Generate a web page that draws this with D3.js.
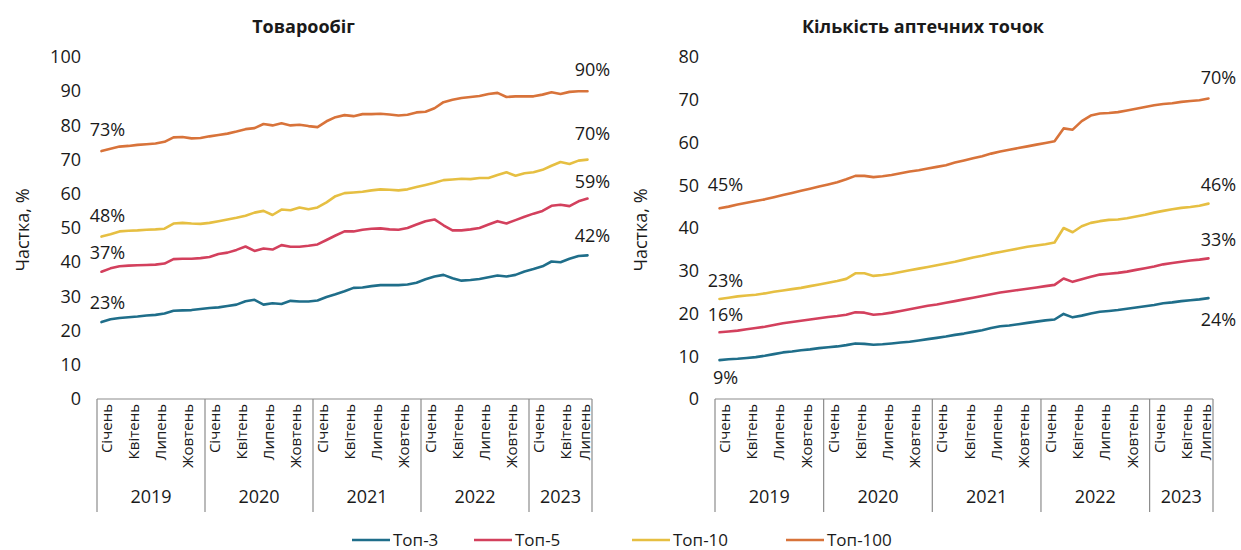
<!DOCTYPE html>
<html>
<head>
<meta charset="utf-8">
<script src="https://cdn.jsdelivr.net/npm/d3@7/dist/d3.min.js"></script>
<style>
  html, body { margin: 0; padding: 0; background: #ffffff; }
  svg { display: block; font-family: "Open Sans", "Noto Sans", sans-serif; }
</style>
</head>
<body>
<svg id="chart" width="1241" height="550"></svg>
<script>
// Monthly shares, January 2019 – July 2023 (55 months)
const years = ["2019", "2020", "2021", "2022", "2023"];
const monthTickLabels = ["Січень", "Квітень", "Липень", "Жовтень"];
const monthCount = 55;

const seriesNames = ["Топ-3", "Топ-5", "Топ-10", "Топ-100"];
const seriesColors = ["#1f6e8a", "#d3405d", "#e6bf42", "#d8733a"];

// Товарообіг
const turnoverTop3 = [22.5, 23.3, 23.7, 23.9, 24.1, 24.4, 24.6, 25.0, 25.8, 25.9, 26.0, 26.3,
  26.6, 26.8, 27.2, 27.6, 28.6, 29.0, 27.6, 28.0, 27.8, 28.7, 28.5, 28.5,
  28.8, 29.8, 30.6, 31.5, 32.5, 32.6, 33.0, 33.3, 33.3, 33.3, 33.5, 34.0,
  35.0, 35.8, 36.3, 35.3, 34.6, 34.8, 35.1, 35.6, 36.1, 35.8, 36.3, 37.3,
  38.0, 38.8, 40.2, 40.0, 41.0, 41.8, 42.0];
const turnoverTop5 = [37.2, 38.2, 38.8, 39.0, 39.1, 39.2, 39.3, 39.6, 40.9, 41.0, 41.0, 41.2,
  41.5, 42.4, 42.8, 43.6, 44.6, 43.3, 44.0, 43.7, 45.0, 44.5, 44.5, 44.8,
  45.2, 46.5, 47.8, 49.0, 49.0, 49.5, 49.8, 49.9, 49.6, 49.5, 50.0, 51.0,
  52.0, 52.5, 50.8, 49.3, 49.3, 49.6, 50.0, 51.0, 52.0, 51.3, 52.3, 53.3,
  54.2, 55.0, 56.5, 56.8, 56.4, 57.8, 58.6];
const turnoverTop10 = [47.5, 48.2, 49.0, 49.2, 49.3, 49.5, 49.6, 49.8, 51.3, 51.5, 51.3, 51.2,
  51.5, 52.0, 52.5, 53.0, 53.6, 54.5, 55.0, 53.8, 55.4, 55.2, 56.0, 55.5,
  56.0, 57.5, 59.3, 60.2, 60.4, 60.6, 61.0, 61.3, 61.2, 61.0, 61.3, 62.0,
  62.6, 63.2, 64.0, 64.2, 64.4, 64.3, 64.6, 64.6, 65.5, 66.3, 65.3, 66.0,
  66.3, 67.0, 68.2, 69.3, 68.7, 69.7, 70.0];
const turnoverTop100 = [72.5, 73.2, 73.8, 74.0, 74.3, 74.5, 74.7, 75.2, 76.5, 76.6, 76.2, 76.3,
  76.8, 77.2, 77.6, 78.2, 78.9, 79.2, 80.4, 80.0, 80.6, 80.0, 80.2, 79.8,
  79.5, 81.2, 82.4, 83.0, 82.7, 83.3, 83.3, 83.4, 83.2, 82.9, 83.1, 83.8,
  84.0, 85.0, 86.8, 87.5, 88.0, 88.3, 88.6, 89.2, 89.5, 88.3, 88.5, 88.5,
  88.5, 89.0, 89.7, 89.2, 89.8, 90.0, 90.0];

// Кількість аптечних точок
const outletsTop3 = [9.1, 9.3, 9.4, 9.6, 9.8, 10.1, 10.5, 10.9, 11.1, 11.4, 11.6, 11.9,
  12.1, 12.3, 12.6, 13.0, 12.9, 12.7, 12.8, 13.0, 13.2, 13.4, 13.7, 14.0,
  14.3, 14.6, 15.0, 15.3, 15.7, 16.1, 16.6, 17.0, 17.2, 17.5, 17.8, 18.1,
  18.4, 18.6, 19.9, 19.1, 19.5, 20.0, 20.4, 20.6, 20.8, 21.1, 21.4, 21.7,
  22.0, 22.4, 22.6, 22.9, 23.1, 23.3, 23.6];
const outletsTop5 = [15.6, 15.8, 16.0, 16.3, 16.6, 16.9, 17.3, 17.7, 18.0, 18.3, 18.6, 18.9,
  19.2, 19.4, 19.7, 20.3, 20.2, 19.7, 19.9, 20.2, 20.6, 21.0, 21.4, 21.8,
  22.1, 22.5, 22.9, 23.3, 23.7, 24.1, 24.5, 24.9, 25.2, 25.5, 25.8, 26.1,
  26.4, 26.7, 28.2, 27.4, 28.0, 28.6, 29.1, 29.3, 29.5, 29.8, 30.2, 30.6,
  31.0, 31.5, 31.8, 32.1, 32.4, 32.6, 32.9];
const outletsTop10 = [23.4, 23.7, 24.0, 24.2, 24.4, 24.7, 25.1, 25.4, 25.7, 26.0, 26.4, 26.8,
  27.2, 27.6, 28.1, 29.4, 29.4, 28.8, 29.0, 29.3, 29.7, 30.1, 30.5, 30.9,
  31.3, 31.7, 32.1, 32.6, 33.1, 33.5, 34.0, 34.4, 34.8, 35.2, 35.6, 35.9,
  36.2, 36.6, 40.0, 39.0, 40.4, 41.2, 41.6, 41.9, 42.0, 42.3, 42.7, 43.1,
  43.6, 44.0, 44.4, 44.7, 44.9, 45.2, 45.7];
const outletsTop100 = [44.6, 45.0, 45.5, 45.9, 46.3, 46.7, 47.2, 47.7, 48.2, 48.7, 49.2, 49.7,
  50.2, 50.7, 51.4, 52.2, 52.2, 51.9, 52.1, 52.4, 52.8, 53.2, 53.5, 53.9,
  54.3, 54.7, 55.3, 55.8, 56.3, 56.8, 57.4, 57.9, 58.3, 58.7, 59.1, 59.5,
  59.9, 60.3, 63.3, 63.0, 65.0, 66.3, 66.8, 66.9, 67.1, 67.5, 67.9, 68.3,
  68.7, 69.0, 69.2, 69.5, 69.7, 69.9, 70.3];

const turnoverTicks = d3.range(0, 101, 10);
const outletsTicks = d3.range(0, 81, 10);

const svg = d3.select("#chart");
const ink = "#1a1a1a";

function drawPanel(opts) {
  const g = svg.append("g");
  const x = d3.scaleBand().domain(d3.range(monthCount)).range([opts.x0, opts.x1]).padding(0);
  const w = x.bandwidth();
  const cx = i => x(i) + w / 2;
  const y = d3.scaleLinear().domain([0, opts.yMax]).range([399, 57]);

  // title
  g.append("text")
    .attr("x", (opts.x0 + opts.x1) / 2 - 41).attr("y", 33)
    .attr("text-anchor", "middle")
    .attr("font-size", 18).attr("font-weight", "bold").attr("fill", ink)
    .text(opts.title);

  // y axis (labels only)
  const yAxis = g.append("g")
    .attr("transform", `translate(${opts.x0 - 16},0)`)
    .call(d3.axisLeft(y).tickValues(opts.ticks).tickSize(0).tickPadding(0));
  yAxis.select(".domain").remove();
  yAxis.selectAll("text").attr("font-size", 18).attr("fill", ink)
    .attr("font-family", "'Open Sans', 'Noto Sans', sans-serif");

  g.append("text")
    .attr("transform", `translate(${opts.x0 - 75},230) rotate(-90)`)
    .attr("text-anchor", "middle").attr("dominant-baseline", "central")
    .attr("font-size", 18).attr("fill", ink)
    .text("Частка, %");

  // x axis line
  g.append("line")
    .attr("x1", opts.x0).attr("x2", opts.x1).attr("y1", 399).attr("y2", 399)
    .attr("stroke", "#8c8c8c").attr("stroke-width", 1.2);

  // year separators and year labels
  const yearStarts = years.map((_, k) => k * 12);
  const bounds = yearStarts.map(i => x(i)).concat([opts.x1]);
  g.selectAll(".sep").data(bounds).join("line")
    .attr("x1", d => d).attr("x2", d => d).attr("y1", 399).attr("y2", 512)
    .attr("stroke", "#8c8c8c").attr("stroke-width", 1.2);
  g.selectAll(".year").data(years).join("text")
    .attr("x", (d, k) => (bounds[k] + bounds[k + 1]) / 2).attr("y", 503)
    .attr("text-anchor", "middle").attr("font-size", 18).attr("fill", ink)
    .text(d => d);

  // month labels every quarter, kept inside the last year's block
  const monthTicks = d3.range(0, monthCount, 3);
  g.selectAll(".month").data(monthTicks).join("text")
    .attr("transform", i => `translate(${Math.min(x(i) + w, opts.x1 - 8)},404) rotate(-90)`)
    .attr("text-anchor", "end").attr("dominant-baseline", "central")
    .attr("font-size", 15).attr("fill", ink)
    .text(i => monthTickLabels[(i % 12) / 3]);

  // series lines with first / last value labels
  const line = d3.line().x((d, i) => cx(i)).y(d => y(d));
  opts.series.forEach((vals, s) => {
    g.append("path").datum(vals)
      .attr("d", line).attr("fill", "none")
      .attr("stroke", seriesColors[s]).attr("stroke-width", 2.6)
      .attr("stroke-linejoin", "round").attr("stroke-linecap", "round");

    const fmt = v => Math.round(v) + "%";
    const first = vals[0], last = vals[vals.length - 1];
    const sd = opts.labelDy[s];
    g.append("text")
      .attr("x", cx(0) + 6).attr("y", y(first) + sd[0])
      .attr("text-anchor", "middle").attr("font-size", 18).attr("fill", ink)
      .text(fmt(first));
    g.append("text")
      .attr("x", cx(vals.length - 1) + opts.endDx).attr("y", y(last) + sd[1])
      .attr("text-anchor", "middle").attr("font-size", 18).attr("fill", ink)
      .text(fmt(last));
  });
}

drawPanel({
  title: "Товарообіг",
  x0: 97, x1: 592, yMax: 100, ticks: turnoverTicks,
  series: [turnoverTop3, turnoverTop5, turnoverTop10, turnoverTop100],
  labelDy: [[-13, -13], [-13, -11], [-15, -20], [-15, -15]],
  endDx: 5
});

drawPanel({
  title: "Кількість аптечних точок",
  x0: 715, x1: 1213, yMax: 80, ticks: outletsTicks,
  series: [outletsTop3, outletsTop5, outletsTop10, outletsTop100],
  labelDy: [[24, 28], [-11, -12], [-12, -13], [-17, -14]],
  endDx: 10
});

// legend
const legendX = [352, 474, 632, 786];
const legend = svg.append("g");
seriesNames.forEach((name, s) => {
  legend.append("line")
    .attr("x1", legendX[s]).attr("x2", legendX[s] + 38)
    .attr("y1", 540).attr("y2", 540)
    .attr("stroke", seriesColors[s]).attr("stroke-width", 2.6);
  legend.append("text")
    .attr("x", legendX[s] + 41).attr("y", 546)
    .attr("font-size", 17).attr("fill", ink)
    .text(name);
});
</script>
</body>
</html>
